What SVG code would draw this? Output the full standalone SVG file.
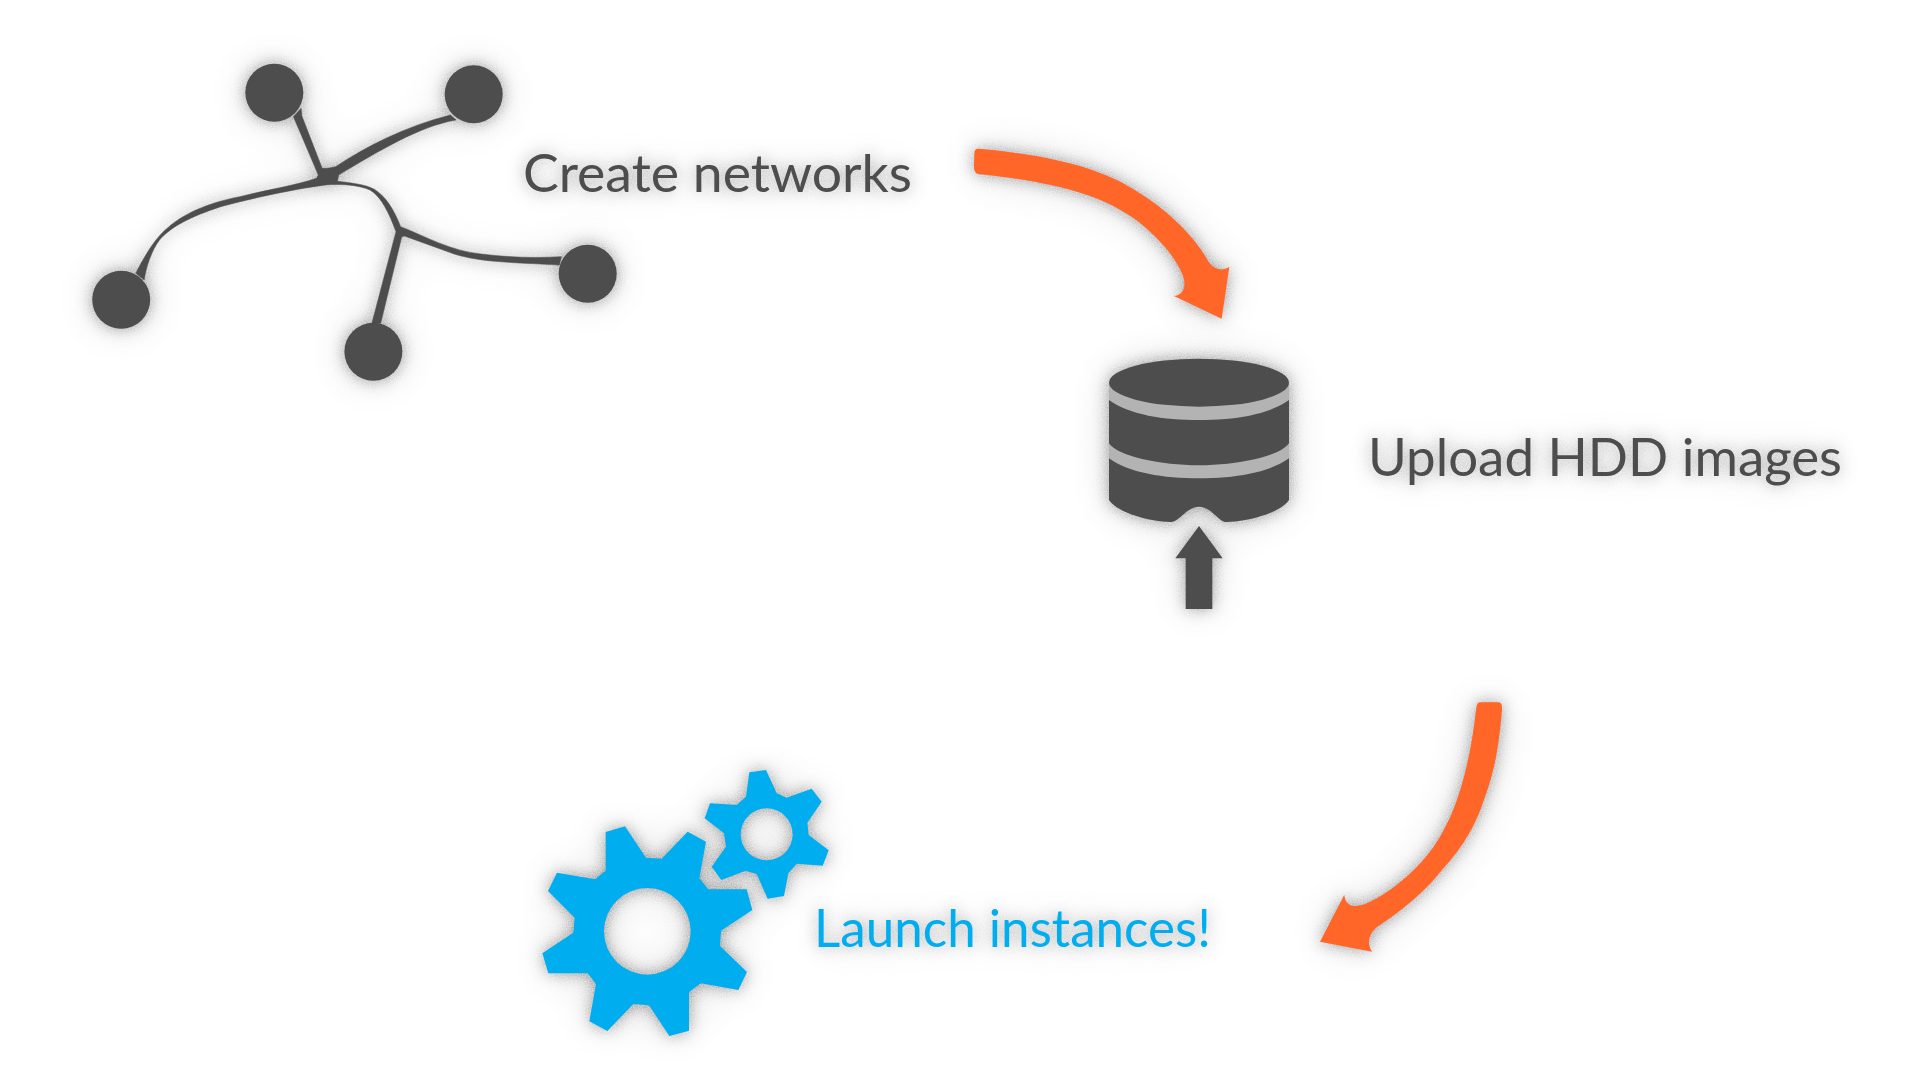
<svg xmlns="http://www.w3.org/2000/svg" width="1920" height="1080" viewBox="0 0 1920 1080">
<defs>
<filter id="sh" filterUnits="userSpaceOnUse" x="0" y="0" width="1920" height="1080" color-interpolation-filters="sRGB">
<feGaussianBlur in="SourceAlpha" stdDeviation="8" result="b1"/>
<feGaussianBlur in="SourceAlpha" stdDeviation="22" result="b2"/>
<feComposite in="b1" in2="b2" operator="arithmetic" k1="0" k2="0.85" k3="0.3" k4="0" result="b"/>
<feTurbulence type="fractalNoise" baseFrequency="0.8" numOctaves="2" seed="3" result="n"/>
<feColorMatrix in="n" type="matrix" values="0 0 0 0 0  0 0 0 0 0  0 0 0 0 0  0 0 0 0.6 0.25" result="na"/>
<feComposite in="na" in2="b" operator="in" result="ns"/>
<feComponentTransfer in="ns" result="s"><feFuncA type="linear" slope="0.72"/></feComponentTransfer>
<feMerge><feMergeNode in="s"/><feMergeNode in="SourceGraphic"/></feMerge>
</filter>
</defs>
<style>
.d{fill:#4d4d4d}
.b{fill:#00aeef}
.o{fill:#ff6628}
.t{font-family:"Lato","Liberation Sans",sans-serif;font-size:52px;font-weight:400}
</style>
<rect width="1920" height="1080" fill="#ffffff"/>
<g id="network" filter="url(#sh)">
<circle class="d" cx="274.3" cy="92.7" r="29"/>
<circle class="d" cx="473.7" cy="94.3" r="29"/>
<circle class="d" cx="121.2" cy="299.7" r="29"/>
<circle class="d" cx="373.4" cy="351.7" r="29"/>
<circle class="d" cx="587.7" cy="273.7" r="29"/>
<path class="d" stroke="#4d4d4d" stroke-width="1.5" stroke-linejoin="round" transform="translate(60,40) scale(0.3827,0.3333)" d="M630,205 L632,228 L685,385 L700,385 L720,380 C800,320 900,260 1020,225 L1035,240 C940,258 830,335 728,405 L725,424 C770,430 810,435 830,455 C860,480 880,530 890,560 C960,592 1020,632 1100,642 C1170,652 1240,655 1310,650 L1305,675 C1200,668 1100,668 1030,642 L900,588 L893,590 L838,850 L815,850 L878,575 C860,520 840,470 810,450 C780,435 740,432 700,434 C620,445 500,475 420,500 C340,530 290,560 260,600 C240,630 225,680 220,720 L198,700 C220,650 250,590 285,560 C320,525 380,490 470,470 C540,450 620,435 670,415 L675,405 L610,230 Z"/>
</g>
<g id="create-label" filter="url(#sh)"><text class="t" x="523" y="192" fill="#4d4d4d" textLength="389" lengthAdjust="spacingAndGlyphs">Create networks</text></g>
<g id="database" filter="url(#sh)"><g transform="translate(1080,340) scale(0.33333)">
<path fill="#b3b3b3" d="M87,130 C87,170 627,170 627,130 L627,370 C560,440 150,440 87,370 Z"/>
<ellipse class="d" cx="357" cy="128" rx="270" ry="72"/>
<path class="d" d="M87,180 C150,225 250,240 357,240 C464,240 564,225 627,180 L627,310 C600,350 470,376 357,376 C244,376 114,350 87,310 Z"/>
<path class="d" d="M87,355 C150,400 250,415 357,415 C464,415 564,400 627,355 L627,480 C600,520 500,545 440,546 C415,546 395,500 357,500 C319,500 300,546 270,546 C214,545 114,520 87,480 Z"/>
<polygon class="d" points="357,558 428,655 397,655 397,807 317,807 317,655 286,655"/>
</g></g>
<g id="upload-label" filter="url(#sh)"><text class="t" x="1368" y="476" fill="#4d4d4d" textLength="474" lengthAdjust="spacingAndGlyphs">Upload HDD images</text></g>
<g id="gears" filter="url(#sh)"><g transform="translate(520,750) scale(0.33333)">
<path class="b" fill-rule="evenodd" d="M257,246 315,229 378,323 425,326 503,245 558,275 538,385 565,418 680,418 697,480 603,542 600,588 681,666 655,720 542,700 507,727 507,842 448,858 387,766 340,762 262,843 208,814 228,702 203,670 85,670 67,610 160,548 164,503 84,423 111,368 225,388 257,362Z M252,544 a130,130 0 1,0 260,0 a130,130 0 1,0 -260,0Z"/>
<path class="b" fill-rule="evenodd" d="M688,67 738,60 770,130 800,143 875,116 905,155 862,218 866,255 926,301 908,347 830,341 805,370 792,438 743,446 710,372 677,362 604,390 575,350 618,290 612,250 554,205 570,160 650,165 678,140Z M662,253 a78,78 0 1,0 156,0 a78,78 0 1,0 -156,0Z"/>
</g></g>
<g id="launch-label" filter="url(#sh)"><text class="t" x="814" y="947" fill="#00aeef" textLength="397" lengthAdjust="spacingAndGlyphs">Launch instances!</text></g>
<g id="connectors">
<g filter="url(#sh)"><path class="o" transform="translate(950,130) scale(0.33333)" d="M85,56 C250,70 400,100 500,150 C620,210 720,300 770,385 C780,410 810,430 838,410 L815,566 L672,498 C690,498 712,480 700,440 C680,380 600,290 520,245 C430,190 300,155 90,133 C78,132 72,125 72,110 L73,70 C73,60 78,56 85,56Z"/></g>
<g filter="url(#sh)"><path class="o" transform="translate(1300,690) scale(0.33333)" d="M540,37 L595,37 C604,37 607,45 606,60 C600,130 590,230 555,320 C530,400 490,470 430,535 C380,600 310,660 240,705 C215,720 195,750 216,785 L60,755 L133,614 C135,650 165,655 200,640 C280,605 375,520 420,440 C475,350 510,220 528,60 C530,45 533,37 540,37Z"/></g>
</g>
</svg>
